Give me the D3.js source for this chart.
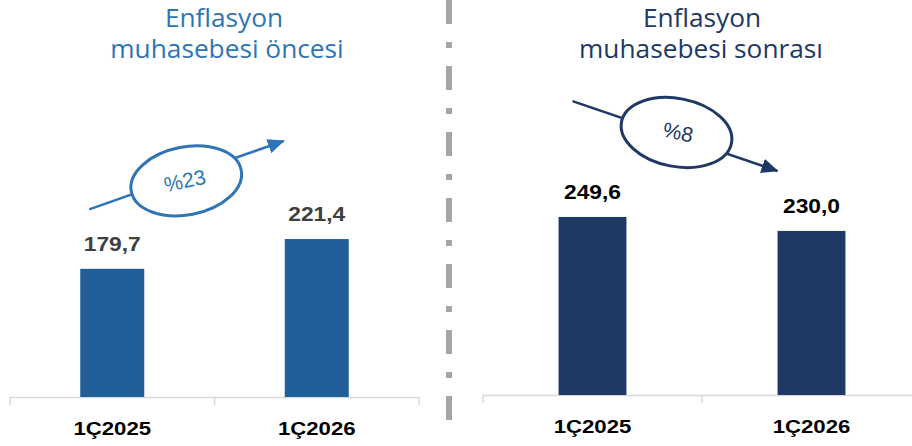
<!DOCTYPE html>
<html><head><meta charset="utf-8">
<script src="https://cdn.jsdelivr.net/npm/d3@7"></script>
<style>html,body{margin:0;padding:0;background:#fff;} svg{display:block;}</style>
</head><body>
<svg id="c" width="912" height="446"></svg>
<script>
// ---- data ----
const categories = ["1Ç2025", "1Ç2026"];
const beforeValues = [179.7, 221.4];
const afterValues = [249.6, 230.0];
const beforeLabels = ["179,7", "221,4"];
const afterLabels = ["249,6", "230,0"];
const titleBefore = ["Enflasyon", "muhasebesi öncesi"];
const titleAfter = ["Enflasyon", "muhasebesi sonrası"];
const changeBefore = "%23";
const changeAfter = "%8";

const svg = d3.select("#c");
const defs = svg.append("defs");
function marker(id, color) {
  defs.append("marker").attr("id", id).attr("markerUnits", "userSpaceOnUse")
    .attr("viewBox", "0 0 16 14").attr("refX", 15).attr("refY", 7)
    .attr("markerWidth", 17).attr("markerHeight", 15).attr("orient", "auto")
    .append("path").attr("d", "M0,0 L16,7 L0,14 Z").attr("fill", color);
}
marker("arL", "#2E75B6");
marker("arR", "#203864");

function panel(o) {
  const x = d3.scaleBand().domain(categories).range(o.xr).paddingInner(o.pad).paddingOuter(o.pad / 2);
  const y = d3.scaleLinear().domain([0, 300]).range([o.base, o.base - 214]);
  const g = svg.append("g");
  const [x0, x1] = o.xr;
  g.append("line").attr("x1", x0).attr("x2", x1).attr("y1", o.base + 0.5).attr("y2", o.base + 0.5)
    .attr("stroke", "#d9d9d9").attr("stroke-width", 1.5);
  const bounds = [x0].concat(categories.map(c => x(c) - x.step() * o.pad / 2 + x.step()));
  g.selectAll(".tk").data(bounds).enter().append("line")
    .attr("x1", d => d).attr("x2", d => d).attr("y1", o.base).attr("y2", o.base + 8)
    .attr("stroke", "#d9d9d9").attr("stroke-width", 1.5);
  g.selectAll(".bar").data(o.values).enter().append("rect")
    .attr("x", (d, i) => x(categories[i])).attr("width", x.bandwidth())
    .attr("y", d => y(d)).attr("height", d => y(0) - y(d)).attr("fill", o.barColor);
  g.selectAll(".vl").data(o.values).enter().append("text")
    .attr("transform", (d, i) => `translate(${x(categories[i]) + x.bandwidth() / 2},${y(d) - 18}) scale(1.14,1)`)
    .attr("text-anchor", "middle").attr("font-family", "Liberation Sans, Arial, sans-serif")
    .attr("font-weight", "bold").attr("font-size", 20).attr("fill", o.labelColor)
    .text((d, i) => o.labels[i]);
  g.selectAll(".cl").data(categories).enter().append("text")
    .attr("transform", d => `translate(${x(d) + x.bandwidth() / 2},${o.base + 38}) scale(1.2,1)`)
    .attr("text-anchor", "middle").attr("font-family", "Liberation Sans, Arial, sans-serif")
    .attr("font-weight", "bold").attr("font-size", 18.5).attr("fill", "#000")
    .text(d => d);
  o.title.forEach((t, i) => {
    svg.append("text").attr("transform", `translate(${o.titleX[i]},${27 + i * 31}) scale(1.05,1)`)
      .attr("text-anchor", "middle").attr("font-family", "Open Sans, sans-serif")
      .attr("font-size", 25).attr("fill", o.titleColor).text(t);
  });
  const cx0 = x(categories[0]) + x.bandwidth() / 2, cx1 = x(categories[1]) + x.bandwidth() / 2;
  const a = o.ann;
  g.append("line").attr("x1", cx0 + a.sx).attr("y1", y(a.sv)).attr("x2", cx1 + a.tx).attr("y2", y(a.tv))
    .attr("stroke", o.titleColor).attr("stroke-width", 2.6).attr("marker-end", `url(#${o.marker})`);
  const ex = cx0 + a.ex, ey = y(a.ev);
  g.append("ellipse").attr("cx", 0).attr("cy", 0).attr("rx", 56).attr("ry", 34)
    .attr("transform", `translate(${ex},${ey}) rotate(${a.rot})`)
    .attr("fill", "#fff").attr("stroke", o.titleColor).attr("stroke-width", 3);
  g.append("text").attr("transform", `translate(${ex},${ey + 7}) rotate(${a.trot})`)
    .attr("text-anchor", "middle").attr("font-family", "Liberation Sans, Arial, sans-serif")
    .attr("font-size", 21).attr("fill", o.titleColor).text(a.text);
}

panel({ xr: [10, 419], pad: 0.687, base: 397, values: beforeValues, labels: beforeLabels,
  barColor: "#215F9B", labelColor: "#404040", title: titleBefore, titleX: [224, 227], titleColor: "#2E75B6",
  marker: "arL",
  ann: { sx: -23, sv: 263, tx: -33, tv: 359, ex: 74, ev: 303, rot: -11, trot: -12, text: changeBefore } });

panel({ xr: [483, 921], pad: 0.69, base: 395, values: afterValues, labels: afterLabels,
  barColor: "#1F3864", labelColor: "#000", title: titleAfter, titleX: [702, 701], titleColor: "#203864",
  marker: "arR",
  ann: { sx: -20, sv: 412, tx: -34, tv: 314, ex: 84, ev: 368, rot: 11, trot: 12, text: changeAfter } });

svg.append("line").attr("x1", 449).attr("x2", 449).attr("y1", 0).attr("y2", 420)
  .attr("stroke", "#a6a6a6").attr("stroke-width", 6).attr("stroke-dasharray", "24 18 6 18");
</script>
</body></html>
